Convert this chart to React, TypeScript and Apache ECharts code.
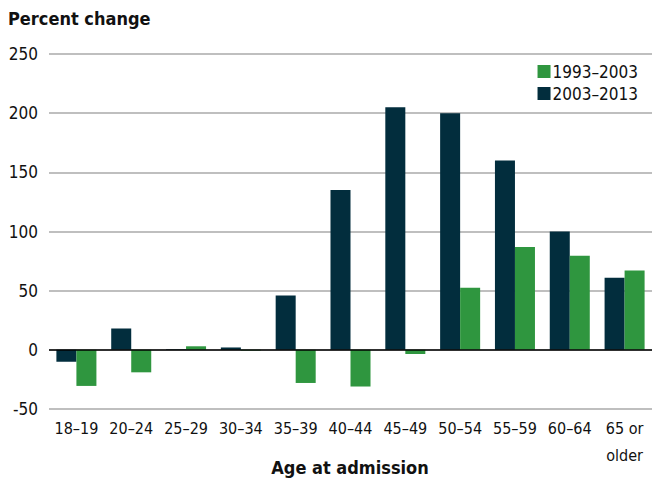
import React, { useEffect, useRef } from "react";
import * as echarts from "echarts";

const categories = ["18–19", "20–24", "25–29", "30–34", "35–39", "40–44", "45–49", "50–54", "55–59", "60–64", "65 or\nolder"];
const series2003to2013 = [-10, 18, 0.5, 2, 46, 135, 205, 200, 160, 100, 61];
const series1993to2003 = [-30.5, -19, 3, -0.5, -28, -31, -3.5, 52.5, 87, 79.5, 67];
const yTicks = { min: -50, max: 250, interval: 50 };

const FONT = "'Liberation Sans Narrow', 'DejaVu Sans Condensed', 'Roboto Condensed', sans-serif";
const NAVY = "#022d3d";
const GREEN = "#2f963f";

export default function App() {
  const ref = useRef<HTMLDivElement>(null);
  useEffect(() => {
    if (!ref.current) return;
    const chart = echarts.init(ref.current, null, { renderer: "svg" });
    chart.setOption({
      animation: false,
      textStyle: { fontFamily: FONT },
      graphic: [
        {
          type: "text",
          left: 8,
          top: 9,
          style: { text: "Percent change", font: `bold 18px ${FONT}`, fill: "#111" },
        },
        {
          type: "text",
          x: 350,
          y: 467,
          style: {
            text: "Age at admission",
            font: `bold 18px ${FONT}`,
            fill: "#111",
            textAlign: "center",
            textVerticalAlign: "middle",
          },
        },
      ],
      legend: {
        orient: "vertical",
        right: 14,
        top: 58,
        itemWidth: 13,
        itemHeight: 13,
        itemGap: 5,
        icon: "rect",
        data: ["1993–2003", "2003–2013"],
        textStyle: { fontSize: 17, color: "#111", fontFamily: FONT, padding: [0, 0, 0, -3] },
      },
      grid: { left: 49, right: 5, top: 54, bottom: 71, outerBoundsMode: "none", containLabel: false },
      xAxis: {
        type: "category",
        data: categories,
        axisLine: { show: false },
        axisTick: { show: false },
        axisLabel: { fontSize: 16, color: "#111", margin: 6, lineHeight: 27, interval: 0, fontFamily: FONT, verticalAlign: "top" },
      },
      yAxis: {
        type: "value",
        min: yTicks.min,
        max: yTicks.max,
        interval: yTicks.interval,
        axisLine: { show: false },
        axisTick: { show: false },
        axisLabel: { fontSize: 17, color: "#111", margin: 11, fontFamily: FONT },
        splitLine: { lineStyle: { color: "#aaaaaa", width: 1.5 } },
      },
      series: [
        {
          name: "2003–2013",
          type: "bar",
          data: series2003to2013,
          itemStyle: { color: NAVY },
          barGap: "0%",
          barCategoryGap: "27%",
          markLine: {
            silent: true,
            symbol: "none",
            label: { show: false },
            lineStyle: { color: "#000", width: 1.5, type: "solid" },
            data: [{ yAxis: 0 }],
          },
          z: 3,
        },
        {
          name: "1993–2003",
          type: "bar",
          data: series1993to2003,
          itemStyle: { color: GREEN },
          barGap: "0%",
          barCategoryGap: "27%",
          z: 3,
        },
      ],
    });
    return () => chart.dispose();
  }, []);
  return <div ref={ref} style={{ width: 657, height: 480, position: "absolute", left: 0, top: 0 }} />;
}
